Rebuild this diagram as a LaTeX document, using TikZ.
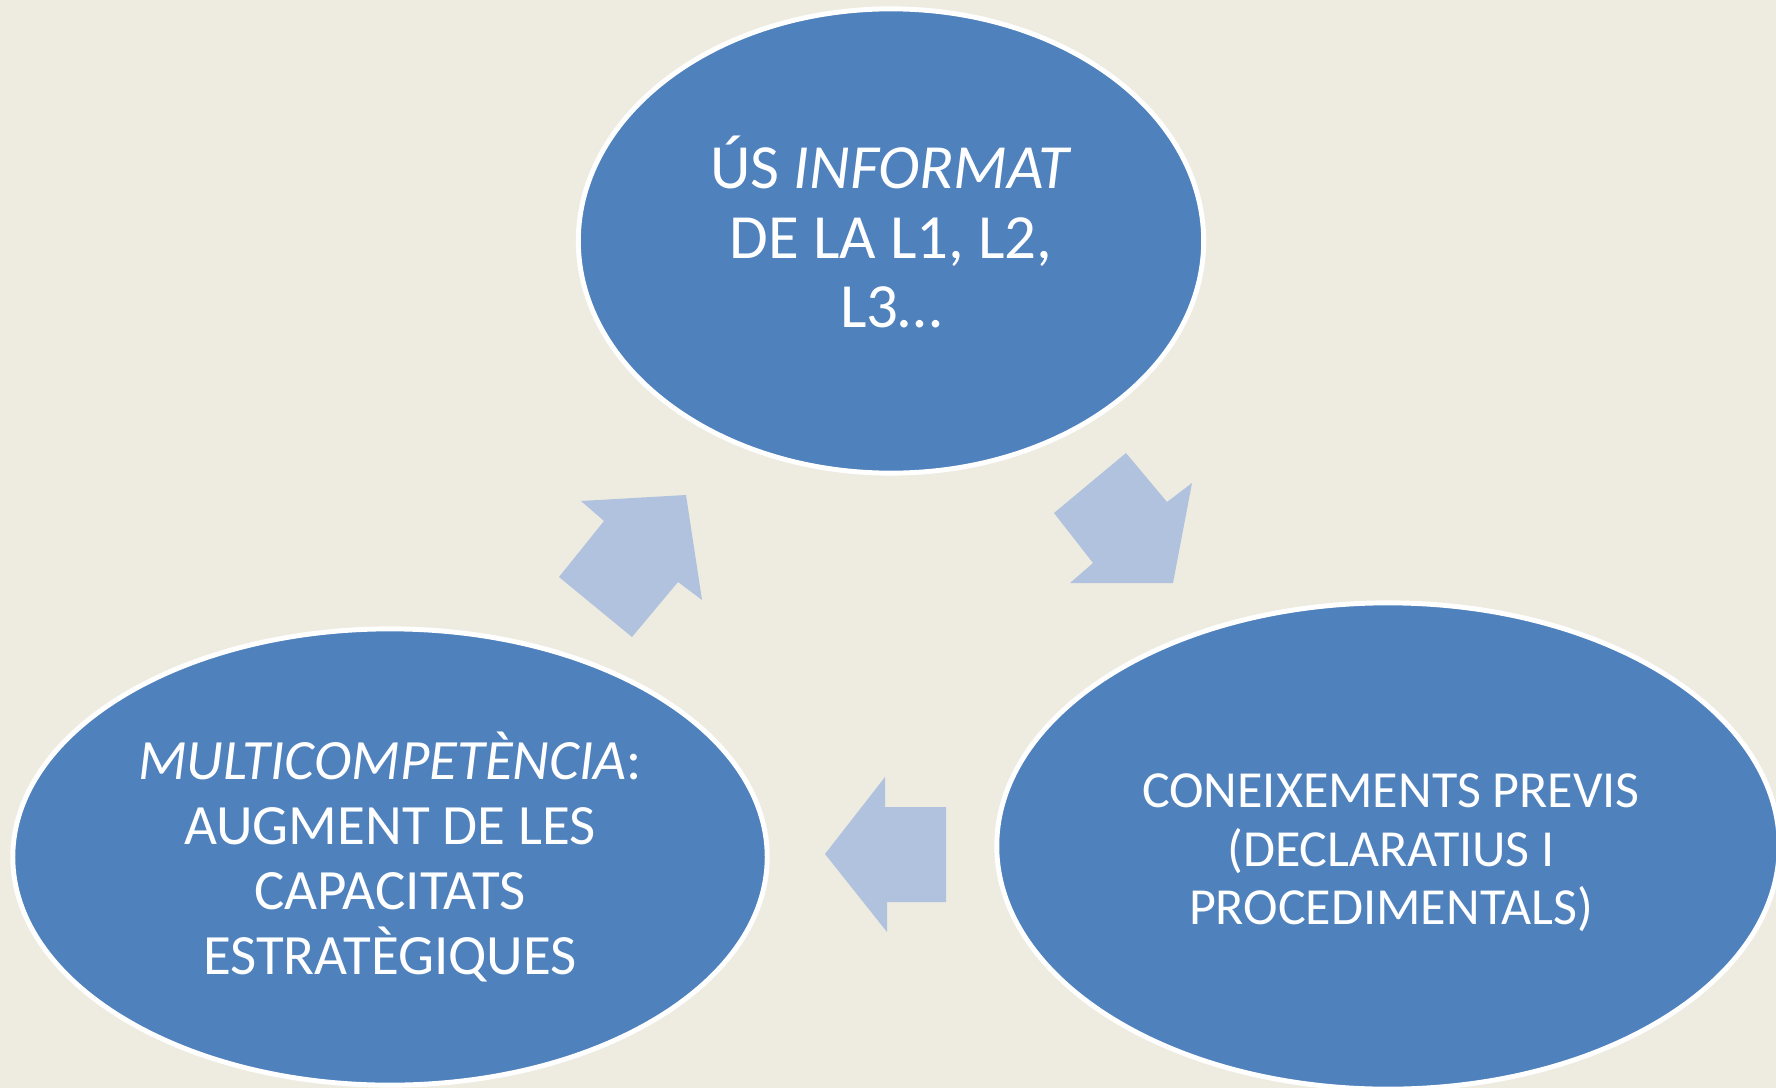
\documentclass[tikz,border=0pt]{standalone}
\usepackage{fontspec}
\setmainfont{Carlito}
\usetikzlibrary{shapes.geometric}
\definecolor{bgtan}{HTML}{EEECE1}
\definecolor{bubblue}{HTML}{4F81BD}
\definecolor{flowblue}{HTML}{B0C2DD}
\begin{document}
\begin{tikzpicture}[x=0.01cm,y=-0.01cm,
	bubble/.style={ellipse,draw=white,line width=1.4pt,fill=bubblue,inner sep=0pt},
	bubbletext/.style={text=white,align=center,inner sep=0pt},
	cyclearrow/.style={fill=flowblue}]
	\useasboundingbox (0,0) rectangle (1776,1088);
	\clip (0,0) rectangle (1776,1088);
	\fill[bgtan] (0,0) rectangle (1776,1088);
	\node[bubble,minimum width=6.25cm,minimum height=4.64cm] (uso) at (891,241) {};
	\node[bubble,minimum width=7.54cm,minimum height=4.56cm] (multi) at (390,857) {};
	\node[bubble,minimum width=7.82cm,minimum height=4.86cm] (previs) at (1388,846) {};
	\node[bubbletext,font=\fontsize{17.9pt}{19.8pt}\selectfont] (usotext) at (891,232) {ÚS \textit{INFORMAT}\\DE LA L1, L2,\\L3\ldots};
	\node[bubbletext,font=\fontsize{16.2pt}{18.4pt}\selectfont] (multitext) at (390,857) {\textit{MULTICOMPETÈNCIA}:\\AUGMENT DE LES\\CAPACITATS\\ESTRATÈGIQUES};
	\node[bubbletext,font=\fontsize{14.8pt}{16.6pt}\selectfont] (previstext) at (1391,853) {CONEIXEMENTS PREVIS\\(DECLARATIUS I\\PROCEDIMENTALS)};
	% arrows between the bubbles
	\fill[cyclearrow] (581,501) -- (686,495) -- (702,600) -- (678,582) -- (632,637) -- (559,577) -- (604,521) -- cycle;
	\fill[cyclearrow] (1126,453) -- (1167,502) -- (1192,483) -- (1173,583) -- (1070,583) -- (1093,563) -- (1054,513) -- cycle;
	\fill[cyclearrow] (825,854) -- (885,777) -- (885,807) -- (946,807) -- (946,902) -- (887,902) -- (887,932) -- cycle;
\end{tikzpicture}
\end{document}
